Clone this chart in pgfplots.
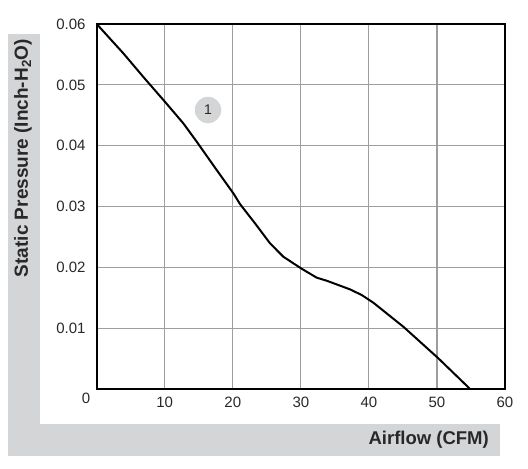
\documentclass[border=0pt]{standalone}
\usepackage{pgfplots}
\pgfplotsset{compat=1.18}
\usepackage{fontspec}
\setmainfont{Liberation Sans}
\definecolor{band}{RGB}{212,213,215}
\definecolor{gridc}{RGB}{158,158,160}
\definecolor{txt}{RGB}{40,40,40}
\begin{document}
\begin{tikzpicture}[x=1pt,y=1pt]
\useasboundingbox (-96.7,-80) rectangle (431.3,389);
\fill[band] (-88.7,-67) rectangle (-56.7,355);
\fill[band] (-88.7,-67) rectangle (403.3,-35);
\begin{axis}[
  at={(0,0)}, anchor=south west,
  scale only axis, width=408.3pt, height=365pt,
  xmin=0, xmax=60, ymin=0, ymax=0.06,
  xtick={10,20,30,40,50,60},
  ytick={0.01,0.02,0.03,0.04,0.05,0.06},
  scaled y ticks=false,
  major tick length=0pt,
  grid=major,
  grid style={gridc, line width=1.2pt},
  axis line style={black, line width=2pt},
  /pgf/number format/assume math mode=true,
  yticklabel style={/pgf/number format/.cd, fixed, fixed zerofill, precision=2, /tikz/.cd},
  yticklabel style={anchor=east, inner sep=0pt, xshift=-11pt, text=txt, font=\fontsize{15}{15}\selectfont},
  xticklabel style={anchor=north, inner sep=0pt, yshift=-8pt, text=txt, font=\fontsize{15}{15}\selectfont},
  clip=false,
]
\addplot[black, line width=2pt] coordinates {
(0,0.06) (3.9,0.0552) (6.85,0.0513) (10.04,0.0472) (12.73,0.04367) (14.7,0.04065)
(17.63,0.036) (20.08,0.03217) (21.06,0.0304) (23.26,0.02724) (25.47,0.02395)
(27.42,0.02175) (30.02,0.01984) (32.33,0.0183) (33.8,0.0178) (37.22,0.01638)
(38.94,0.01545) (40.65,0.01419) (45.06,0.01024) (50.2,0.00505) (54.87,0)
};
\node[circle, fill=band, minimum size=26.5pt, inner sep=0pt, text=txt, font=\fontsize{14}{14}\selectfont] at (axis cs:16.36,0.04586) {1};
\end{axis}
\node[text=txt, font=\fontsize{15}{15}\selectfont] at (-10.7,-9) {0};
\node[rotate=90, text=txt, font=\bfseries\fontsize{19}{19}\selectfont] at (-73.7,231) {Static Pressure (Inch-H\textsubscript{2}O)};
\node[anchor=east, inner sep=0pt, text=txt, font=\bfseries\fontsize{18.5}{18.5}\selectfont] at (392.3,-51) {Airflow (CFM)};
\end{tikzpicture}
\end{document}
